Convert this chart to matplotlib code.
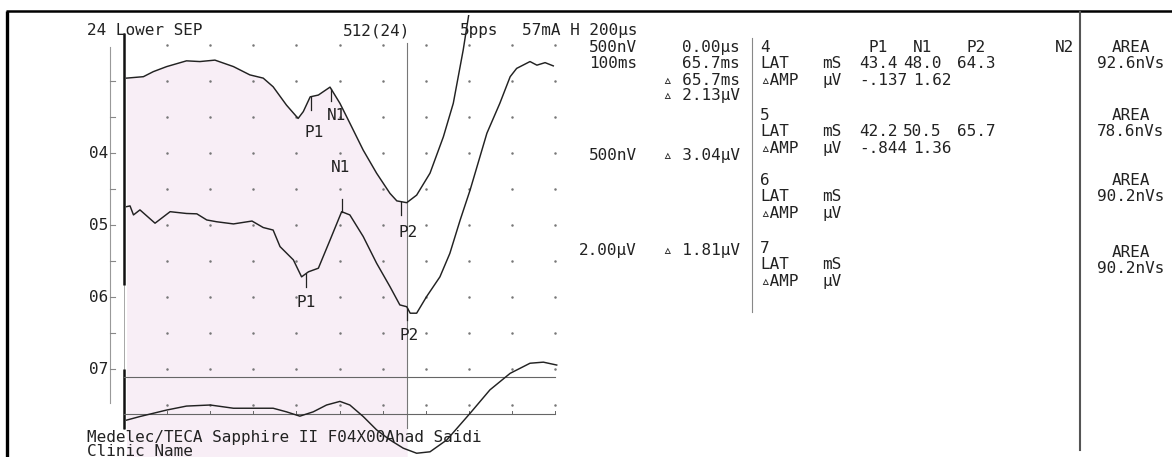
import matplotlib
matplotlib.use('Agg')
import matplotlib.pyplot as plt
import numpy as np

plt.rcParams['font.family'] = ['DejaVu Sans Mono', 'DejaVu Sans']

# ---------------- data ----------------
# time in ms after stimulus, amplitude in grid divisions (down = positive, row 04 = 0)
tr1_t = [0.6, 4.5, 6.8, 9.9, 14.5, 17.6, 21.1, 25.4, 29.2, 32.3, 34.6, 37.7, 40.4, 41.6,
         43.2, 45.1, 46.2, 47.8, 50.1, 52.4, 55.5, 58.6, 61.7, 63.3, 65.6, 67.9, 71.0,
         74.1, 76.4, 78.7, 80.2]
tr1_d = [-2.08, -2.12, -2.26, -2.40, -2.56, -2.54, -2.58, -2.40, -2.17, -2.08, -1.84, -1.33,
         -0.96, -1.15, -1.56, -1.61, -1.70, -1.83, -1.38, -0.83, -0.08, 0.56, 1.12, 1.33,
         1.38, 1.17, 0.56, -0.45, -1.38, -2.86, -4.0]

tr2_t = [0.6, 1.4, 2.2, 3.7, 7.2, 10.7, 14.5, 16.9, 19.2, 21.5, 25.4, 29.7, 32.3, 34.6,
         36.2, 39.3, 41.2, 42.8, 45.1, 47.8, 50.5, 52.4, 55.5, 58.6, 61.7, 64.0, 65.6,
         66.4, 67.9, 70.2, 73.3, 75.6, 78.0, 80.3, 84.2, 87.2, 89.6, 91.1, 94.2, 95.8,
         97.7, 99.6]
tr2_d = [1.49, 1.47, 1.72, 1.58, 1.95, 1.63, 1.68, 1.69, 1.86, 1.91, 1.97, 1.89, 2.07, 2.14,
         2.60, 2.97, 3.44, 3.30, 3.20, 2.42, 1.63, 1.72, 2.32, 3.06, 3.71, 4.22, 4.27,
         4.45, 4.45, 3.99, 3.44, 2.79, 1.86, 1.03, -0.55, -1.38, -2.12, -2.35, -2.54,
         -2.44, -2.51, -2.42]

tr3_t = [0.6, 3.7, 9.9, 14.5, 20.0, 25.4, 30.0, 34.6, 37.7, 40.8, 43.9, 47.0, 50.1, 52.4,
         55.5, 58.6, 61.7, 64.8, 67.9, 71.0, 74.9, 80.3, 84.9, 89.6, 94.2, 97.3, 100.4]
tr3_d = [7.42, 7.32, 7.14, 7.03, 7.00, 7.09, 7.09, 7.09, 7.19, 7.31, 7.19, 7.00, 6.90, 7.00,
         7.32, 7.69, 7.97, 8.20, 8.34, 8.30, 7.97, 7.23, 6.58, 6.12, 5.84, 5.81, 5.89]

chan_labels = ['04', '05', '06', '07']
chan_rows = [0, 2, 4, 6]
ch3_lines = [6.22, 7.25]
cursor_ms = 65.7

peak_names = ['P1', 'N1', 'P2']
lat4 = [43.4, 48.0, 64.3]
lat5 = [42.2, 50.5, 65.7]
amp4 = ['-.137', '1.62']
amp5 = ['-.844', '1.36']
areas = ['92.6nVs', '78.6nVs', '90.2nVs', '90.2nVs']
table_rows = ['4', '5', '6', '7']

# ---------------- layout (pixels on the 1172x457 page) ----------------
W, H = 1172, 457
t0_px, px_ms = 124, 4.31
d0_px, px_div = 153, 36
fs = 11.5
ink = '#222222'

fig = plt.figure(figsize=(W / 100, H / 100), dpi=100)

# trace axes in ms / divisions
left_px, right_px, top_px = 100, 570, 15
ax = fig.add_axes([left_px / W, 0, (right_px - left_px) / W, (H - top_px) / H])
ax.set_xlim((left_px - t0_px) / px_ms, (right_px - t0_px) / px_ms)
ax.set_ylim((H - d0_px) / px_div, (top_px - d0_px) / px_div)
ax.axis('off')
ax.set_zorder(1)

# page axes on top for the printed text
pax = fig.add_axes([0, 0, 1, 1])
pax.set_xlim(0, W)
pax.set_ylim(H, 0)
pax.axis('off')
pax.patch.set_alpha(0)
pax.set_zorder(2)

# page frame
pax.plot([7, 7], [11, H], color='black', lw=2.4, solid_capstyle='butt')
pax.plot([6, W], [11, 11], color='black', lw=1.8, solid_capstyle='butt')

# shaded area under the first trace up to the cursor
t_fill = np.linspace(0.6, cursor_ms, 300)
ax.fill_between(t_fill, np.interp(t_fill, tr1_t, tr1_d), 8.6, color='#f8eef6', lw=0, zorder=0)

# grid dots
gx, gy = np.meshgrid(np.arange(10, 101, 10), np.arange(-3, 8))
ax.plot(gx.ravel(), gy.ravel(), ls='none', marker='o', ms=1.8, color='#777777', mec='none')

# left axis with ticks and channel labels
ax_t = (110 - t0_px) / px_ms
ax.plot([ax_t, ax_t], [-2.94, 6.94], color='#999999', lw=0.8)
for r in range(-2, 7):
    ax.plot([ax_t, ax_t + 5 / px_ms], [r, r], color='#888888', lw=0.8)
for lab, r in zip(chan_labels, chan_rows):
    ax.text(ax_t - 2 / px_ms, r, lab, ha='right', va='center', fontsize=fs, color=ink)

# stimulus marker
ax.plot([-0.1, -0.1], [-3.33, 7.67], color='#999999', lw=0.6)
ax.plot([-0.1, -0.1], [-3.33, 3.67], color='#111111', lw=1.8, solid_capstyle='butt')
ax.plot([-0.1, -0.1], [6.0, 7.67], color='#111111', lw=1.8, solid_capstyle='butt')

# cursor and channel 7 reference lines
ax.plot([cursor_ms, cursor_ms], [-3.06, 7.64], color='#777777', lw=0.8)
for y in ch3_lines:
    ax.plot([0, 100], [y, y], color='#666666', lw=0.8)
for tk in range(10, 101, 10):
    ax.plot([tk, tk], [ch3_lines[1], ch3_lines[1] - 0.09], color='#666666', lw=0.7)

# traces
for tt, dd in [(tr1_t, tr1_d), (tr2_t, tr2_d), (tr3_t, tr3_d)]:
    ax.plot(tt, dd, color=ink, lw=1.05, solid_joinstyle='round')

# peak markers
tick_len = 0.36
marks = [(tr1_t, tr1_d, lat4, [1, 1, 1], [-0.58, -1.05, 2.22]),
         (tr2_t, tr2_d, lat5, [1, -1, 1], [4.14, 0.39, 5.06])]
label_dx = [[0.8, 1.2, 1.6], [0.0, -0.3, 0.5]]
for k, (tt, dd, lats, dirs, lab_y) in enumerate(marks):
    for j, (lat, sgn) in enumerate(zip(lats, dirs)):
        y0 = np.interp(lat, tt, dd)
        ax.plot([lat, lat], [y0, y0 + sgn * tick_len], color=ink, lw=0.9)
        ax.text(lat + label_dx[k][j], lab_y[j], peak_names[j], ha='center', va='center',
                fontsize=fs, color=ink)

# ---------------- page text ----------------
def put(x, y, s, ha='left'):
    pax.text(x, y, s, ha=ha, va='baseline', fontsize=fs, color=ink)

put(87, 35, '24 Lower SEP')
put(343, 35, '512(24)')
put(460, 35, '5pps')
put(522, 35, '57mA H 200µs')

for s, y in [('500nV', 52), ('100ms', 68), ('500nV', 160), ('2.00µV', 255)]:
    put(637, y, s, ha='right')
for s, y in [('0.00µs', 52), ('65.7ms', 68), ('▵ 65.7ms', 85), ('▵ 2.13µV', 100),
             ('▵ 3.04µV', 160), ('▵ 1.81µV', 255)]:
    put(740, y, s, ha='right')

pax.plot([752, 752], [38, 312], color='#888888', lw=0.8)
pax.plot([1080, 1080], [12, 450], color='#555555', lw=1.5)

row_base = [52, 120, 185, 253]
for name, b in zip(table_rows, row_base):
    put(760, b, name)
    put(760, b + 16, 'LAT')
    put(822, b + 16, 'mS')
    put(760, b + 33, '▵AMP')
    put(822, b + 33, 'µV')
for name, x in zip(peak_names + ['N2'], [868, 913, 967, 1055]):
    put(x, 52, name)
for lats, amps, b in [(lat4, amp4, 52), (lat5, amp5, 120)]:
    for v, x in zip(lats, [859, 903, 957]):
        put(x, b + 16, f'{v:.1f}')
    for v, x in zip(amps, [859, 913]):
        put(x, b + 33, v)

for a, b in zip(areas, [52, 120, 185, 257]):
    put(1131, b, 'AREA', ha='center')
    put(1131, b + 16, a, ha='center')

put(87, 442, 'Medelec/TECA Sapphire II F04X00Ahad Saidi')
put(87, 456, 'Clinic Name')

fig.savefig('out.png', dpi=100)
